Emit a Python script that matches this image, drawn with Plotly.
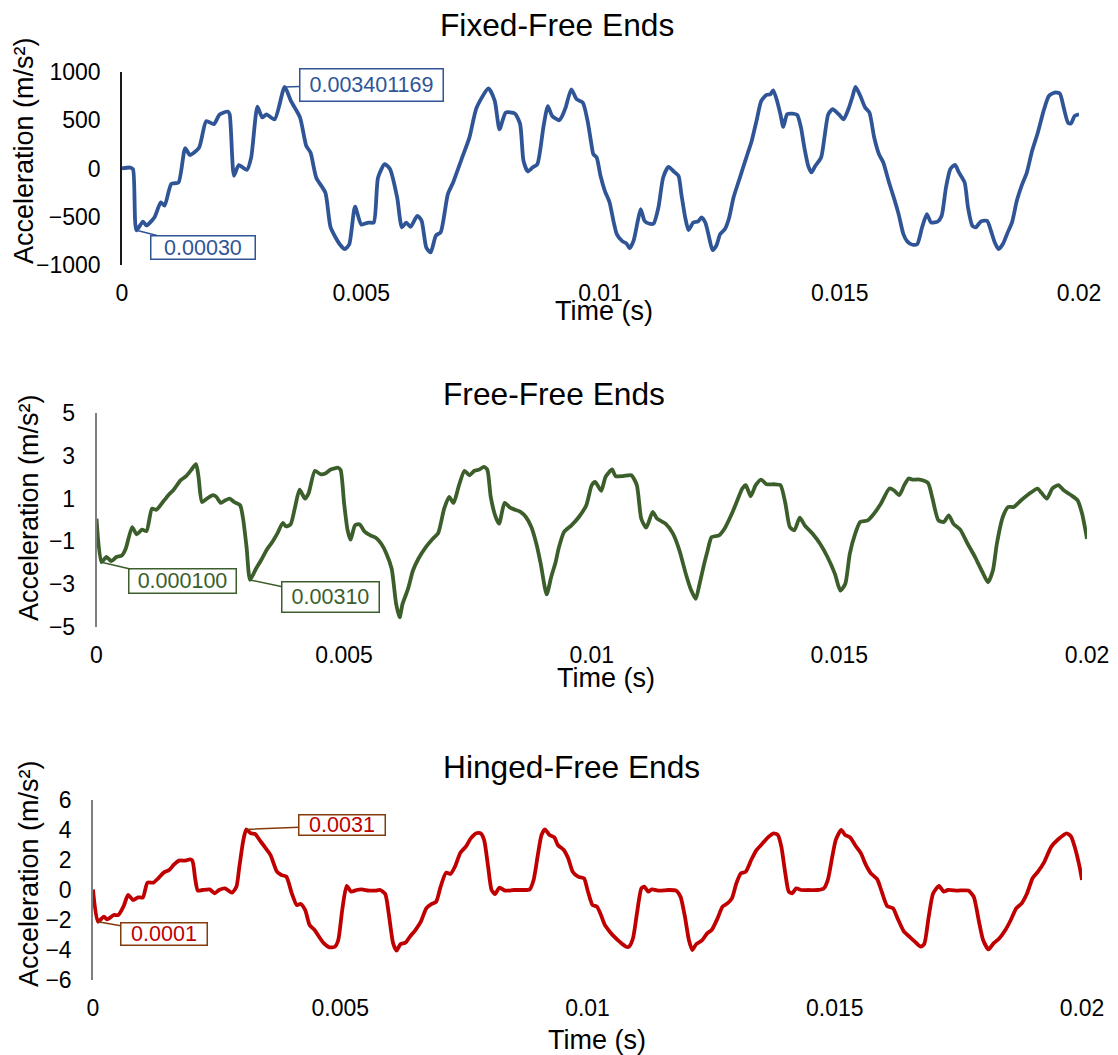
import plotly.graph_objects as go

# ---------------- data ----------------
# Fixed-Free Ends
t1 = [0, 0.00017, 0.00023, 0.0003, 0.00044, 0.00051, 0.00068, 0.00081, 0.00089, 0.00103,
      0.00118, 0.00132, 0.00142, 0.00161, 0.00176, 0.00192, 0.00204, 0.00221, 0.00225, 0.00234,
      0.00244, 0.00261, 0.0027, 0.00283, 0.00293, 0.00302, 0.00319, 0.0034, 0.00353, 0.00372,
      0.00385, 0.00394, 0.00406, 0.00425, 0.00436, 0.00455, 0.00466, 0.00475, 0.00487, 0.005,
      0.00515, 0.00526, 0.00535, 0.00549, 0.0056, 0.00575, 0.00585, 0.00594, 0.00603, 0.00617,
      0.00626, 0.00636, 0.00645, 0.00656, 0.00666, 0.00681, 0.00692, 0.00711, 0.00726, 0.00741,
      0.00766, 0.00779, 0.00789, 0.00802, 0.00821, 0.00832, 0.00839, 0.00848, 0.00858, 0.00868,
      0.00881, 0.0089, 0.00899, 0.00914, 0.00919, 0.00927, 0.00939, 0.0095, 0.00963, 0.00973,
      0.00981, 0.00985, 0.00992, 0.01, 0.01009, 0.01019, 0.01027, 0.01034, 0.01046, 0.01054,
      0.01061, 0.01069, 0.01078, 0.01084, 0.01092, 0.01101, 0.01111, 0.01121, 0.01131, 0.01142,
      0.01154, 0.01163, 0.01169, 0.01177, 0.01184, 0.01194, 0.01204, 0.01211, 0.01219, 0.01227,
      0.01234, 0.01242, 0.0125, 0.0126, 0.01269, 0.01278, 0.01288, 0.01298, 0.01307, 0.01316,
      0.01326, 0.01336, 0.01347, 0.01355, 0.01361, 0.01369, 0.01376, 0.01382, 0.0139, 0.01401,
      0.01411, 0.01419, 0.01426, 0.01434, 0.01441, 0.01449, 0.01461, 0.01468, 0.01476, 0.01485,
      0.01498, 0.01508, 0.01518, 0.01526, 0.01533, 0.01543, 0.01553, 0.01562, 0.01572, 0.01582,
      0.01591, 0.01603, 0.01614, 0.01623, 0.01633, 0.01641, 0.01652, 0.01662, 0.01672, 0.01682,
      0.01691, 0.01705, 0.01713, 0.01722, 0.01731, 0.01741, 0.01749, 0.01761, 0.01768, 0.01777,
      0.01784, 0.01795, 0.01808, 0.01816, 0.01824, 0.01832, 0.01841, 0.01851, 0.0186, 0.0187,
      0.0188, 0.01891, 0.01902, 0.01914, 0.01926, 0.01937, 0.01949, 0.0196, 0.01968, 0.01977,
      0.01983, 0.01991, 0.02]
a1 = [0, 10, -7, -640, -550, -590, -505, -350, -385, -160,
      -145, 210, 140, 215, 490, 460, 560, 590, 560, -75,
      35, -15, 115, 640, 530, 560, 510, 845, 700, 530,
      235, 165, -95, -250, -610, -785, -835, -785, -395, -580,
      -560, -560, -95, 45, -5, -300, -610, -560, -605, -490,
      -540, -820, -870, -695, -660, -265, -145, 115, 320, 630,
      830, 700, 405, 580, 570, 460, 80, -30, 10, 45,
      440, 645, 545, 500, 535, 630, 820, 718, 683, 493,
      252, 148, 114, -76, -231, -352, -542, -680, -755, -776,
      -825, -750, -542, -421, -542, -570, -570, -404, -93, 17,
      -35, -76, -266, -507, -638, -560, -549, -507, -560, -714,
      -845, -800, -680, -628, -507, -300, -145, 10, 148, 286,
      493, 700, 762, 769, 810, 700, 562, 431, 562, 569,
      555, 424, 217, 28, -41, 28, 114, 321, 562, 614,
      562, 510, 614, 735, 845, 752, 631, 580, 321, 148,
      62, -145, -317, -473, -680, -755, -790, -783, -611, -473,
      -560, -549, -490, -197, -7, 38, -41, -145, -404, -593,
      -611, -549, -542, -645, -766, -835, -783, -662, -559, -335,
      -180, -41, 183, 373, 597, 752, 787, 776, 631, 476,
      466, 545, 562]

# Free-Free Ends
t2 = [0, 0.0001, 0.0002, 0.0003, 0.0004, 0.00051, 0.00059, 0.00072, 0.00081, 0.00092,
      0.00101, 0.00112, 0.00121, 0.00134, 0.00145, 0.00155, 0.0017, 0.00181, 0.00191, 0.00201,
      0.00206, 0.00213, 0.00223, 0.00235, 0.00242, 0.00251, 0.0026, 0.00269, 0.00278, 0.0029,
      0.00296, 0.00303, 0.0031, 0.00322, 0.00332, 0.00345, 0.00355, 0.00365, 0.00376, 0.00383,
      0.00392, 0.00401, 0.0041, 0.00421, 0.00428, 0.00441, 0.00452, 0.00462, 0.00473, 0.00488,
      0.00493, 0.005, 0.00507, 0.00513, 0.00522, 0.00531, 0.00542, 0.00553, 0.00564, 0.00575,
      0.00585, 0.00596, 0.00605, 0.00612, 0.00618, 0.00629, 0.00639, 0.0065, 0.00665, 0.00679,
      0.0069, 0.00702, 0.00712, 0.00721, 0.00731, 0.00743, 0.00753, 0.00763, 0.00773, 0.00782,
      0.00789, 0.00796, 0.00806, 0.00813, 0.00824, 0.00835, 0.00845, 0.00856, 0.00867, 0.00878,
      0.00889, 0.00897, 0.00909, 0.00918, 0.00927, 0.00933, 0.00944, 0.00959, 0.00974, 0.00989,
      0.01, 0.01007, 0.01019, 0.01028, 0.01041, 0.01048, 0.01063, 0.0108, 0.01091, 0.011,
      0.0111, 0.01123, 0.01132, 0.01149, 0.01164, 0.01177, 0.0119, 0.01201, 0.0121, 0.01217,
      0.01227, 0.01234, 0.01242, 0.01257, 0.01268, 0.01283, 0.01294, 0.01304, 0.01311, 0.01321,
      0.01331, 0.01342, 0.01353, 0.01368, 0.01381, 0.01391, 0.014, 0.01409, 0.0142, 0.0143,
      0.01446, 0.01461, 0.01476, 0.01491, 0.01502, 0.01512, 0.01521, 0.01532, 0.01542, 0.01557,
      0.01569, 0.01584, 0.01601, 0.0161, 0.01621, 0.01631, 0.0164, 0.01647, 0.01662, 0.01679,
      0.01688, 0.017, 0.01711, 0.01721, 0.0173, 0.01744, 0.01759, 0.01774, 0.01789, 0.018,
      0.0181, 0.01818, 0.0183, 0.01841, 0.01852, 0.01867, 0.01882, 0.019, 0.01908, 0.01919,
      0.0193, 0.01942, 0.01953, 0.01968, 0.01981, 0.0199, 0.02]
a2 = [0.06, -1.97, -1.73, -1.92, -1.73, -1.66, -1.34, -0.33, -0.67, -0.45,
      -0.52, 0.53, 0.48, 0.84, 1.16, 1.39, 1.86, 2.05, 2.33, 2.61,
      2.02, 0.84, 1.0, 1.16, 1.08, 0.8, 0.92, 1.0, 0.84, 0.69,
      0.06, -1.27, -2.8, -2.28, -1.89, -1.34, -1.03, -0.64, -0.14, -0.3,
      -0.2, 0.61, 1.42, 1.0, 1.23, 2.3, 2.14, 2.17, 2.36, 2.44,
      2.33, 0.77, -0.48, -0.92, -0.25, -0.2, -0.56, -0.72, -0.83, -1.11,
      -1.55, -2.28, -3.92, -4.55, -3.92, -3.22, -2.36, -1.81, -1.27, -0.88,
      -0.61, 0.53, 1.08, 0.8, 1.55, 2.3, 2.09, 2.3, 2.36, 2.48,
      2.36, 1.08, 0.14, -0.17, 0.8, 0.58, 0.48, 0.38, 0.14, -0.33,
      -1.19, -2.05, -3.48, -2.67, -1.97, -1.34, -0.56, -0.25, 0.14, 0.69,
      1.63, 1.78, 1.36, 2.02, 2.36, 2.05, 2.05, 2.09, 1.63, 0.06,
      -0.36, 0.38, 0.06, -0.17, -0.64, -1.42, -2.52, -3.3, -3.69, -3.06,
      -2.05, -1.42, -0.8, -0.72, -0.41, 0.3, 0.92, 1.47, 1.63, 1.11,
      1.63, 1.89, 1.67, 1.67, 1.63, 0.77, -0.33, -0.48, 0.11, -0.25,
      -0.64, -1.11, -1.73, -2.52, -3.3, -2.98, -1.58, -0.64, -0.09, -0.02,
      0.27, 0.77, 1.47, 1.39, 1.16, 1.63, 1.94, 1.89, 1.89, 1.73,
      1.0, -0.02, -0.09, 0.22, -0.17, -0.45, -1.11, -1.73, -2.44, -2.91,
      -2.36, -1.11, 0.14, 0.61, 0.61, 0.92, 1.2, 1.47, 1.27, 1.0,
      1.47, 1.63, 1.39, 1.16, 0.92, 0.3, -0.88]

# Hinged-Free Ends
t3 = [0, 0.0001, 0.00022, 0.00029, 0.00042, 0.00051, 0.00062, 0.00071, 0.00081, 0.00091,
      0.00101, 0.0011, 0.00122, 0.00132, 0.00143, 0.00154, 0.00163, 0.00174, 0.00187, 0.00196,
      0.00201, 0.00207, 0.00212, 0.00221, 0.00236, 0.00246, 0.00255, 0.00267, 0.00281, 0.0029,
      0.00296, 0.00304, 0.0031, 0.00319, 0.00328, 0.00337, 0.00348, 0.00359, 0.00372, 0.00381,
      0.00391, 0.00402, 0.00412, 0.0042, 0.00429, 0.00438, 0.00448, 0.00457, 0.00467, 0.00478,
      0.00489, 0.00496, 0.00504, 0.00513, 0.00522, 0.00533, 0.00543, 0.00558, 0.00571, 0.00581,
      0.00591, 0.00598, 0.00607, 0.00614, 0.00622, 0.00632, 0.00641, 0.00652, 0.00663, 0.00674,
      0.00685, 0.00694, 0.00703, 0.00714, 0.00723, 0.00732, 0.00743, 0.00754, 0.00764, 0.00775,
      0.00784, 0.00791, 0.00799, 0.00806, 0.00813, 0.00822, 0.00833, 0.00851, 0.0087, 0.00883,
      0.00891, 0.00899, 0.00907, 0.00914, 0.00923, 0.00933, 0.0094, 0.00952, 0.00961, 0.0097,
      0.00981, 0.00993, 0.01, 0.0101, 0.01019, 0.01026, 0.01035, 0.01045, 0.01054, 0.01067,
      0.01078, 0.01084, 0.01092, 0.011, 0.01109, 0.01115, 0.01123, 0.0113, 0.01145, 0.01164,
      0.01179, 0.01188, 0.01197, 0.01205, 0.01212, 0.0122, 0.01231, 0.01242, 0.01251, 0.01263,
      0.01273, 0.01283, 0.01292, 0.01301, 0.0131, 0.0132, 0.01331, 0.01342, 0.01353, 0.01365,
      0.01376, 0.01385, 0.01392, 0.014, 0.01407, 0.01414, 0.01422, 0.01432, 0.01446, 0.01465,
      0.01478, 0.01486, 0.01495, 0.01502, 0.01513, 0.01521, 0.01531, 0.01541, 0.01553, 0.01563,
      0.01573, 0.01586, 0.01595, 0.01606, 0.01618, 0.01627, 0.0164, 0.01651, 0.01662, 0.01674,
      0.01681, 0.0169, 0.01699, 0.01711, 0.0172, 0.01729, 0.01748, 0.0177, 0.01781, 0.01791,
      0.018, 0.01811, 0.01821, 0.01833, 0.01845, 0.01856, 0.01867, 0.01878, 0.01889, 0.019,
      0.01911, 0.01923, 0.01938, 0.01952, 0.01969, 0.01978, 0.01987, 0.01995, 0.02]
a3 = [0.04, -2.11, -1.78, -1.96, -1.67, -1.67, -1.07, -0.33, -0.67, -0.49,
      -0.49, 0.49, 0.49, 0.78, 1.16, 1.33, 1.67, 1.96, 1.96, 2.04,
      1.96, 0.67, -0.04, 0, 0.04, -0.22, 0, 0.11, -0.18, 0.22,
      1.56, 3.33, 4.04, 3.78, 3.73, 3.33, 2.84, 2.33, 1.22, 1.0,
      0.89, -0.22, -1.0, -0.93, -1.33, -2.33, -2.67, -3.11, -3.56, -3.82,
      -3.78, -3.33, -1.33, 0.27, -0.11, 0, 0.04, -0.04, -0.04, 0,
      -0.27, -1.56, -3.56, -4.04, -3.6, -3.51, -3.11, -2.67, -2.11, -1.22,
      -0.93, -0.78, 0.22, 1.16, 1.07, 1.56, 2.49, 2.89, 3.44, 3.78,
      3.78, 3.33, 1.56, 0, -0.27, 0.16, -0.04, 0, 0, 0.04,
      0.67, 2.22, 3.67, 4.04, 3.67, 3.51, 3.0, 2.67, 2.11, 1.22,
      0.89, 0.78, 0, -1.0, -1.11, -1.56, -2.33, -2.78, -3.11, -3.51,
      -3.78, -3.78, -3.22, -1.56, 0.11, 0.22, -0.11, 0.04, -0.04, 0,
      -0.04, -0.44, -1.78, -3.33, -4.0, -3.6, -3.38, -2.89, -2.67, -1.89,
      -1.11, -0.89, -0.56, 0.44, 1.11, 1.22, 2.0, 2.67, 3.07, 3.51,
      3.78, 3.67, 2.89, 1.11, -0.11, -0.22, 0.11, 0, 0, 0,
      0.11, 0.67, 2.22, 3.33, 4.0, 3.67, 3.51, 3.0, 2.44, 1.67,
      1.11, 0.71, -0.11, -1.07, -1.22, -1.89, -2.78, -3.11, -3.44, -3.78,
      -3.6, -1.78, -0.22, 0.27, -0.11, 0, -0.04, -0.04, -0.44, -2.0,
      -3.33, -3.96, -3.56, -3.22, -2.67, -2.0, -1.22, -0.89, -0.22, 0.78,
      1.22, 1.82, 2.89, 3.38, 3.78, 3.56, 2.67, 1.56, 0.67]

titles = ["Fixed-Free Ends", "Free-Free Ends", "Hinged-Free Ends"]
x_ticks = [0, 0.005, 0.01, 0.015, 0.02]
x_tick_text = ["0", "0.005", "0.01", "0.015", "0.02"]
y_ticks1 = [-1000, -500, 0, 500, 1000]
y_ticks2 = [-5, -3, -1, 1, 3, 5]
y_ticks3 = [-6, -4, -2, 0, 2, 4, 6]

# data labels: (x, y, text)
labels1 = [(0.0034, 845, "0.003401169"), (0.0003, -640, "0.00030")]
labels2 = [(0.0001, -1.97, "0.000100"), (0.0031, -2.8, "0.00310")]
labels3 = [(0.0031, 4.04, "0.0031"), (0.0001, -2.11, "0.0001")]

# ---------------- layout helpers ----------------
W, H = 1118, 1055
FONT = "Liberation Sans, Arial, sans-serif"
OX, OY = 8.0, 8.0   # page body margin of the browser


def px(x):        # screen pixel x -> paper fraction
    return (x - OX) / W


def py(y):        # screen pixel y -> paper fraction
    return 1 - (y - OY) / H


fig = go.Figure()

panels = [
    dict(t=t1, a=a1, color="#2F5597", axcol="#1a1a1a", xd=(122, 1079), yd=(72, 265),
         yr=[-1000, 1000], yt=y_ticks1, title_xy=(557, 25), xt_xy=(604, 311), yt_xy=(24, 151)),
    dict(t=t2, a=a2, color="#3B5E2B", axcol="#7f7f7f", xd=(96.5, 1087), yd=(413, 627),
         yr=[-5, 5], yt=y_ticks2, title_xy=(554, 394), xt_xy=(606, 678), yt_xy=(29, 508)),
    dict(t=t3, a=a3, color="#C00000", axcol="#7f7f7f", xd=(93, 1082), yd=(800, 980),
         yr=[-6, 6], yt=y_ticks3, title_xy=(571, 767), xt_xy=(597, 1040), yt_xy=(29, 874)),
]

annotations = []
for i, p in enumerate(panels):
    n = "" if i == 0 else str(i + 1)
    fig.add_trace(go.Scatter(
        x=p["t"], y=p["a"], mode="lines",
        line=dict(color=p["color"], width=3.8, shape="spline", smoothing=0.6),
        xaxis="x" + n, yaxis="y" + n, showlegend=False, hoverinfo="skip"))
    fig.layout["xaxis" + n] = dict(
        domain=[px(p["xd"][0]), px(p["xd"][1])], anchor="y" + n, range=[0, 0.02],
        tickvals=x_ticks, ticktext=x_tick_text, showline=False, showgrid=False,
        zeroline=False, ticks="", ticklabelstandoff=12, automargin=False,
        tickfont=dict(family=FONT, size=23, color="#000000"))
    fig.layout["yaxis" + n] = dict(
        domain=[py(p["yd"][1]), py(p["yd"][0])], anchor="x" + n, range=p["yr"],
        tickvals=p["yt"], showline=True, linecolor=p["axcol"], linewidth=1.5,
        showgrid=False, zeroline=False, ticks="", ticklabelstandoff=15, automargin=False,
        tickfont=dict(family=FONT, size=23, color="#000000"))
    annotations.append(dict(
        text=titles[i], x=px(p["title_xy"][0]), y=py(p["title_xy"][1]),
        xref="paper", yref="paper", showarrow=False, xanchor="center", yanchor="middle",
        font=dict(family=FONT, size=31.7, color="#000000")))
    annotations.append(dict(
        text="Time (s)", x=px(p["xt_xy"][0]), y=py(p["xt_xy"][1]),
        xref="paper", yref="paper", showarrow=False, xanchor="center", yanchor="middle",
        font=dict(family=FONT, size=27, color="#000000")))
    annotations.append(dict(
        text="Acceleration (m/s²)", x=px(p["yt_xy"][0]), y=py(p["yt_xy"][1]),
        xref="paper", yref="paper", showarrow=False, textangle=-90,
        xanchor="center", yanchor="middle",
        font=dict(family=FONT, size=27, color="#000000")))

# (offset of box centre from point in px, box width, box height)
label_styles = [
    (labels1, "x", "y", "#2F5597", "#2F5597", [((87, -2), 144, 33), ((67, 17), 105, 24)]),
    (labels2, "x2", "y2", "#3B5E2B", "#3B5E2B", [((81, 19), 108, 25), ((80, 17), 98, 31)]),
    (labels3, "x3", "y3", "#C00000", "#843C0C", [((96, -4), 87, 21), ((66, 12), 87, 23)]),
]
for labs, xr, yr, tc, bc, geo in label_styles:
    for (lx, ly, txt), ((ax, ay), bw, bh) in zip(labs, geo):
        annotations.append(dict(
            x=lx, y=ly, xref=xr, yref=yr, text=txt, showarrow=True, arrowhead=0,
            arrowwidth=1.5, arrowcolor=bc, ax=ax, ay=ay,
            axref="pixel", ayref="pixel",
            width=bw - 4, height=bh - 4, align="center", valign="middle",
            bordercolor=bc, borderwidth=1.5, borderpad=1, bgcolor="#ffffff",
            font=dict(family=FONT, size=21.5, color=tc)))

fig.update_layout(
    width=W, height=H, margin=dict(l=0, r=0, t=0, b=0, autoexpand=False),
    paper_bgcolor="#ffffff", plot_bgcolor="#ffffff",
    annotations=annotations, showlegend=False)

fig.write_html("out.html")
